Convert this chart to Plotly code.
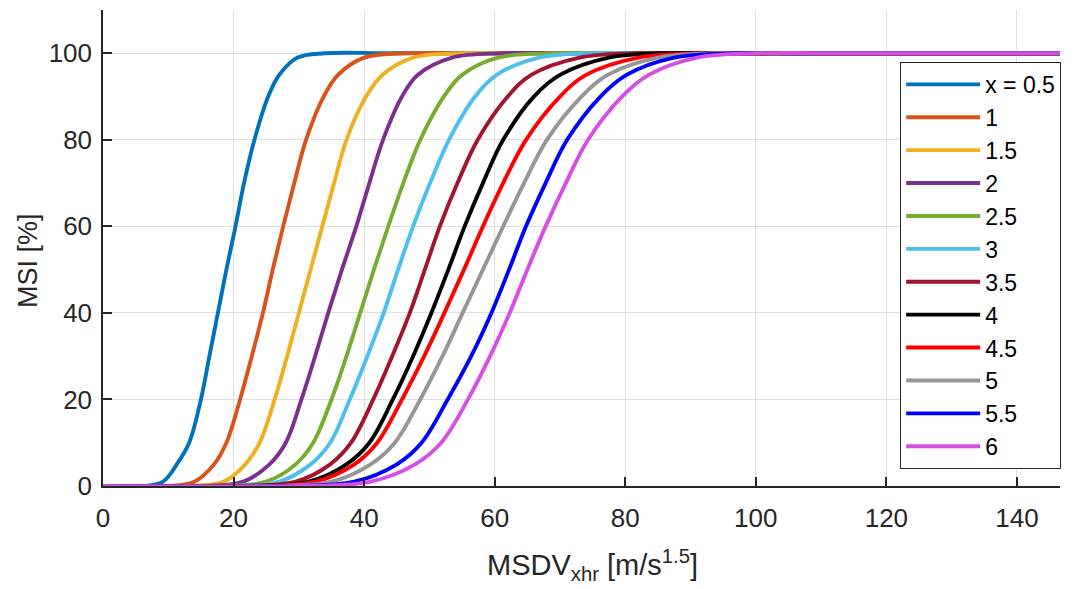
import plotly.graph_objects as go

msi_levels = [0, 0, 1, 5, 10, 20, 30, 40, 50, 60, 70, 80, 90, 95, 99, 100, 100, 100]

labels = ["x = 0.5", "1", "1.5", "2", "2.5", "3", "3.5", "4", "4.5", "5", "5.5", "6"]
colors = ["#0072BD", "#D95319", "#EDB120", "#7E2F8E", "#77AC30", "#4DBEEE",
          "#A2142F", "#000000", "#FF0000", "#969696", "#0000FF", "#D64FE3"]

# MSDV_xhr value where each curve crosses each MSI level
x_05 = [0, 6.5, 9.2, 11.3, 13.2, 15.0, 16.3, 17.6, 18.9, 20.3, 21.6, 23.2, 25.3, 27.0, 29.8, 34, 45, 148]
x_1 = [0, 10, 14.0, 17.0, 18.9, 21.0, 22.8, 24.5, 26.0, 27.6, 29.3, 31.1, 33.8, 36.0, 40.0, 46, 57, 148]
x_15 = [0, 13, 18.5, 21.8, 24.0, 26.3, 28.2, 30.0, 31.8, 33.6, 35.4, 37.3, 40.3, 42.8, 47.5, 55, 66, 148]
x_2 = [0, 16, 21.5, 25.5, 28.0, 30.4, 32.5, 34.5, 36.6, 38.8, 40.8, 42.9, 45.8, 48.2, 53.5, 61, 72, 148]
x_25 = [0, 18, 25.0, 29.5, 32.2, 35.0, 37.3, 39.4, 41.5, 43.7, 46.0, 48.6, 52.2, 55.0, 60.5, 69, 80, 148]
x_3 = [0, 20, 27.0, 31.8, 34.8, 37.8, 40.5, 43.0, 45.2, 47.5, 50.1, 53.0, 57.0, 60.3, 66.8, 75, 86, 148]
x_35 = [0, 21, 29.5, 34.8, 38.0, 41.4, 44.3, 47.0, 49.3, 51.6, 54.3, 57.4, 62.0, 65.6, 73.0, 81, 92, 148]
x_4 = [0, 22, 31.5, 37.3, 40.8, 44.4, 47.5, 50.3, 52.9, 55.4, 58.2, 61.3, 66.0, 70.0, 77.5, 86, 97, 148]
x_45 = [0, 23, 32.5, 38.5, 42.0, 45.8, 49.2, 52.3, 55.3, 58.2, 61.3, 64.8, 70.0, 74.0, 82.0, 91, 102, 148]
x_5 = [0, 25, 35.0, 41.0, 44.7, 48.6, 52.0, 55.1, 58.2, 61.3, 64.5, 68.0, 73.3, 77.3, 85.0, 94, 105, 148]
x_55 = [0, 28, 38.5, 45.0, 48.8, 52.8, 56.4, 59.5, 62.2, 64.8, 67.8, 71.1, 76.2, 80.2, 87.5, 97, 108, 148]
x_6 = [0, 30, 41.0, 47.8, 51.8, 55.9, 59.3, 62.3, 65.0, 67.8, 70.9, 74.3, 79.5, 83.6, 91.0, 100, 111, 148]

series = [x_05, x_1, x_15, x_2, x_25, x_3, x_35, x_4, x_45, x_5, x_55, x_6]

fig = go.Figure()
for xs, lab, col in zip(series, labels, colors):
    fig.add_trace(go.Scatter(
        x=xs, y=msi_levels, mode="lines", name=lab, cliponaxis=False,
        line=dict(color=col, width=3.9, shape="spline", smoothing=1.0),
    ))

axis_col = "#262626"
grid_col = "#DFDFDF"
# the page body adds an 8px offset, so margins are reduced by 8px on left/top
fig.update_layout(
    width=1074, height=589,
    margin=dict(l=95, r=22, t=2, b=111),
    paper_bgcolor="white", plot_bgcolor="white",
    font=dict(family="Liberation Sans, Arial, sans-serif", color=axis_col),
    showlegend=True,
    legend=dict(
        x=0.833, y=0.891, xanchor="left", yanchor="top",
        bgcolor="white", bordercolor=axis_col, borderwidth=1,
        font=dict(size=23, color="#000000"),
        itemwidth=74, tracegroupgap=0,
    ),
    xaxis=dict(
        range=[0, 146.6], tickvals=[0, 20, 40, 60, 80, 100, 120, 140],
        showgrid=True, gridcolor=grid_col, gridwidth=1,
        showline=True, linecolor=axis_col, linewidth=1.5,
        ticks="inside", ticklen=9, tickwidth=1.5, tickcolor=axis_col,
        tickfont=dict(size=26), zeroline=False, automargin=False,
        ticklabelstandoff=8,
    ),
    yaxis=dict(
        range=[0, 110], tickvals=[0, 20, 40, 60, 80, 100],
        showgrid=True, gridcolor=grid_col, gridwidth=1,
        showline=True, linecolor=axis_col, linewidth=1.5,
        ticks="inside", ticklen=9, tickwidth=1.5, tickcolor=axis_col,
        tickfont=dict(size=26), zeroline=False, automargin=False,
        ticklabelstandoff=4,
    ),
    annotations=[
        dict(text="MSDV<sub>xhr</sub> [m/s<sup>1.5</sup>]", xref="paper", yref="paper",
             x=0.511, y=-0.166, xanchor="center", yanchor="middle", showarrow=False,
             font=dict(size=29, color=axis_col)),
        dict(text="MSI [%]", xref="paper", yref="paper", textangle=-90,
             x=-0.0784, y=0.4748, xanchor="center", yanchor="middle", showarrow=False,
             font=dict(size=27, color=axis_col)),
    ],
)

fig.write_html("out.html")
